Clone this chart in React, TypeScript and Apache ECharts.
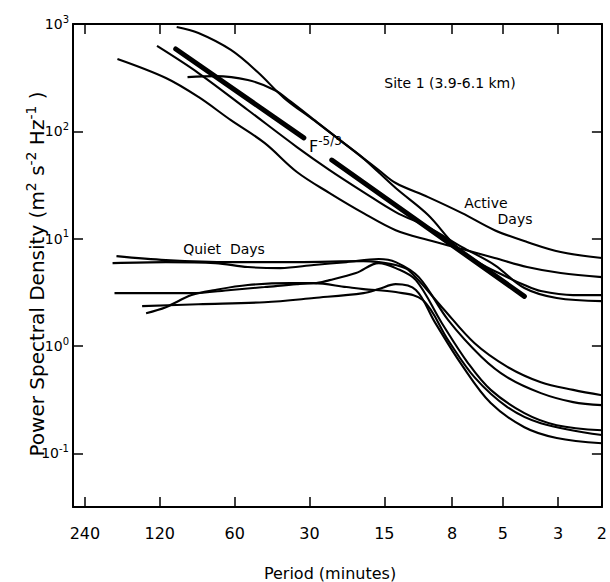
import React, { useEffect, useRef } from "react";
import * as echarts from "echarts";

// Tick labels
const X_TICK_PERIODS = [240, 120, 60, 30, 15, 8, 5, 3, 2];
const Y_TICK_EXPONENTS = [-1, 0, 1, 2, 3];
const PERIOD_MAX = 268;
const PERIOD_MIN = 2;
const LOG_PSD_MIN = -1.5;
const LOG_PSD_MAX = 3;

// [period (minutes), PSD (m^2 s^-2 Hz^-1)]
const activeA = [[102.6, 938], [83.9, 824], [62.1, 573], [48.5, 357], [37.9, 204], [28.8, 127], [21.3, 74.5], [18.2, 56], [15.8, 43.6], [13.5, 33], [10.0, 24.4], [7.3, 17.3], [5.4, 12.0], [4.0, 9.3], [2.93, 7.5], [2.0, 6.6]];
const activeB = [[92.8, 320], [71.8, 327], [53.1, 301], [41.5, 243], [35.9, 191], [28.0, 122], [21.3, 74.5], [18.2, 56], [13.5, 29.6], [10.0, 16.6], [7.8, 8.7], [6.3, 6.05], [5.1, 4.68], [4.1, 3.7], [3.52, 3.25], [2.61, 2.98], [2.0, 2.98]];
const activeC = [[123.1, 624], [83.9, 349], [53.1, 158], [33.7, 71.4], [24.9, 43.6], [18.2, 27.2], [13.5, 17.7], [10.0, 12.8], [7.3, 8.35], [5.4, 5.68], [4.1, 3.47], [3.04, 2.8], [2.0, 2.62]];
const activeD = [[177.6, 472], [113.4, 314], [83.9, 209], [62.1, 127], [45.5, 78], [33.7, 41.8], [24.9, 26.6], [18.2, 17.3], [13.5, 12.0], [10.0, 9.7], [7.3, 8.0], [5.4, 6.6], [4.0, 5.44], [2.93, 4.78], [2.0, 4.38]];

const quiet1 = [[179.2, 6.88], [113.4, 6.32], [62.1, 6.05], [33.7, 6.05], [18.2, 6.18], [15.8, 6.05], [13.5, 5.68], [12.0, 5.1], [8.8, 2.3], [6.5, 1.06], [4.8, 0.64], [3.52, 0.46], [2.61, 0.39], [2.0, 0.348]];
const quiet2 = [[185.8, 5.92], [113.4, 6.05], [71.8, 5.92], [53.1, 5.44], [39.3, 5.32], [28.8, 5.68], [21.3, 6.05], [15.8, 6.46], [13.5, 6.05], [10.9, 4.38], [8.3, 1.74], [6.1, 0.79], [4.8, 0.51], [3.52, 0.364], [2.61, 0.3], [2.0, 0.281]];
const quiet3 = [[182.5, 3.11], [113.4, 3.11], [89.4, 3.11], [62.1, 3.33], [45.5, 3.54], [33.7, 3.77], [28.8, 3.85], [21.3, 3.54], [18.2, 3.39], [13.5, 3.18], [10.5, 2.68], [8.3, 1.13], [6.5, 0.51], [4.8, 0.27], [3.52, 0.191], [2.0, 0.148]];
const quiet4 = [[136.2, 2.02], [113.4, 2.3], [89.4, 2.98], [71.8, 3.33], [53.1, 3.7], [35.9, 3.85], [28.8, 3.85], [24.9, 4.11], [19.5, 4.78], [15.8, 5.92], [13.5, 5.32], [11.2, 4.11], [8.8, 1.63], [6.9, 0.69], [5.6, 0.39], [4.1, 0.237], [3.04, 0.183], [2.0, 0.164]];
const quiet5 = [[141.3, 2.35], [83.9, 2.45], [45.5, 2.56], [28.8, 2.8], [18.2, 3.11], [15.8, 3.39], [13.5, 3.77], [11.2, 3.33], [9.4, 1.67], [7.3, 0.66], [5.6, 0.294], [4.1, 0.175], [3.04, 0.139], [2.0, 0.124]];

// F^-5/3 reference line (drawn in two pieces around its label)
const slopeA = [[103.5, 585], [31.6, 87]];
const slopeB = [[24.4, 54], [4.1, 2.9]];

const FONT = "DejaVu Sans";

const toLog = (arr: number[][]) => arr.map(([p, v]) => [Math.log10(p), Math.log10(v)]);

export default function App() {
  const ref = useRef<HTMLDivElement>(null);

  useEffect(() => {
    if (!ref.current) return;
    const chart = echarts.init(ref.current, null, { renderer: "svg" });

    const xTickVals = X_TICK_PERIODS.map((p) => Math.log10(p));
    const xAxis = (position: "bottom" | "top", showLabel: boolean) => ({
      type: "value",
      position,
      min: Math.log10(PERIOD_MIN),
      max: Math.log10(PERIOD_MAX),
      inverse: true,
      axisLine: { show: true, onZero: false, lineStyle: { color: "#000", width: 2 } },
      axisTick: { show: true, inside: true, length: 10, lineStyle: { color: "#000", width: 1.5 }, customValues: xTickVals },
      axisLabel: {
        show: showLabel,
        customValues: xTickVals,
        formatter: (v: number) => String(Math.round(Math.pow(10, v))),
        margin: 18,
        color: "#000",
        fontSize: 16,
        fontFamily: FONT,
      },
      splitLine: { show: false },
    });
    const yAxis = (position: "left" | "right", showLabel: boolean) => ({
      type: "value",
      position,
      min: LOG_PSD_MIN,
      max: LOG_PSD_MAX,
      axisLine: { show: true, onZero: false, lineStyle: { color: "#000", width: 2 } },
      axisTick: { show: true, inside: true, length: 10, lineStyle: { color: "#000", width: 1.5 }, customValues: Y_TICK_EXPONENTS },
      axisLabel: {
        show: showLabel,
        customValues: Y_TICK_EXPONENTS,
        formatter: (v: number) => `{b|10}{s|${v}}`,
        margin: 4,
        rich: {
          b: { fontSize: 14, fontFamily: FONT, color: "#000", lineHeight: 20 },
          s: { fontSize: 10, fontFamily: FONT, color: "#000", lineHeight: 10, verticalAlign: "top" },
        },
      },
      splitLine: { show: false },
    });

    const thin = (name: string, data: number[][]) => ({
      name,
      type: "line",
      data: toLog(data),
      showSymbol: false,
      smooth: 0.35,
      lineStyle: { color: "#000", width: 2.1 },
      xAxisIndex: 0,
      yAxisIndex: 0,
    });
    const thick = (name: string, data: number[][]) => ({
      name,
      type: "line",
      data: toLog(data),
      showSymbol: false,
      lineStyle: { color: "#000", width: 5, cap: "round" },
      xAxisIndex: 0,
      yAxisIndex: 0,
    });

    const txt = (x: number, y: number, text: string, size = 14, extra: any = {}) => ({
      type: "text",
      x,
      y,
      style: { text, fontSize: size, fontFamily: FONT, fill: "#000", align: "center", verticalAlign: "middle", ...extra },
    });

    chart.setOption({
      animation: false,
      backgroundColor: "#fff",
      grid: { left: 73, top: 24, width: 535, height: 483, containLabel: false },
      xAxis: [xAxis("bottom", true), xAxis("top", false)],
      yAxis: [yAxis("left", true), yAxis("right", false)],
      series: [
        thin("Active A", activeA),
        thin("Active B", activeB),
        thin("Active C", activeC),
        thin("Active D", activeD),
        thin("Quiet 1", quiet1),
        thin("Quiet 2", quiet2),
        thin("Quiet 3", quiet3),
        thin("Quiet 4", quiet4),
        thin("Quiet 5", quiet5),
        thick("F-5/3 a", slopeA),
        thick("F-5/3 b", slopeB),
      ],
      graphic: [
        {
          type: "text",
          x: 37,
          y: 274,
          rotation: Math.PI / 2,
          style: {
            text: "{t|Power Spectral Density (m}{s|2}{t| s}{s|-2}{t| Hz}{s|-1}{t| )}",
            align: "center",
            verticalAlign: "middle",
            fill: "#000",
            rich: {
              t: { fontSize: 20, fontFamily: FONT, fill: "#000", lineHeight: 27 },
              s: { fontSize: 14, fontFamily: FONT, fill: "#000", lineHeight: 14, verticalAlign: "top" },
            },
          },
        },
        txt(330, 573, "Period (minutes)", 16),
        txt(450, 83, "Site 1 (3.9-6.1 km)", 14),
        txt(486, 203, "Active", 14),
        txt(515, 219, "Days", 14),
        txt(224, 249, "Quiet  Days", 14),
        {
          type: "text",
          x: 309,
          y: 146,
          style: {
            text: "{b|F}{s|-5/3}",
            align: "left",
            verticalAlign: "middle",
            fill: "#000",
            rich: {
              b: { fontSize: 16, fontFamily: FONT, fill: "#000", lineHeight: 22 },
              s: { fontSize: 12, fontFamily: FONT, fill: "#000", lineHeight: 12, verticalAlign: "top" },
            },
          },
        },
      ],
    });

    return () => chart.dispose();
  }, []);

  return <div ref={ref} style={{ position: "absolute", left: 0, top: 0, width: 610, height: 582 }} />;
}
